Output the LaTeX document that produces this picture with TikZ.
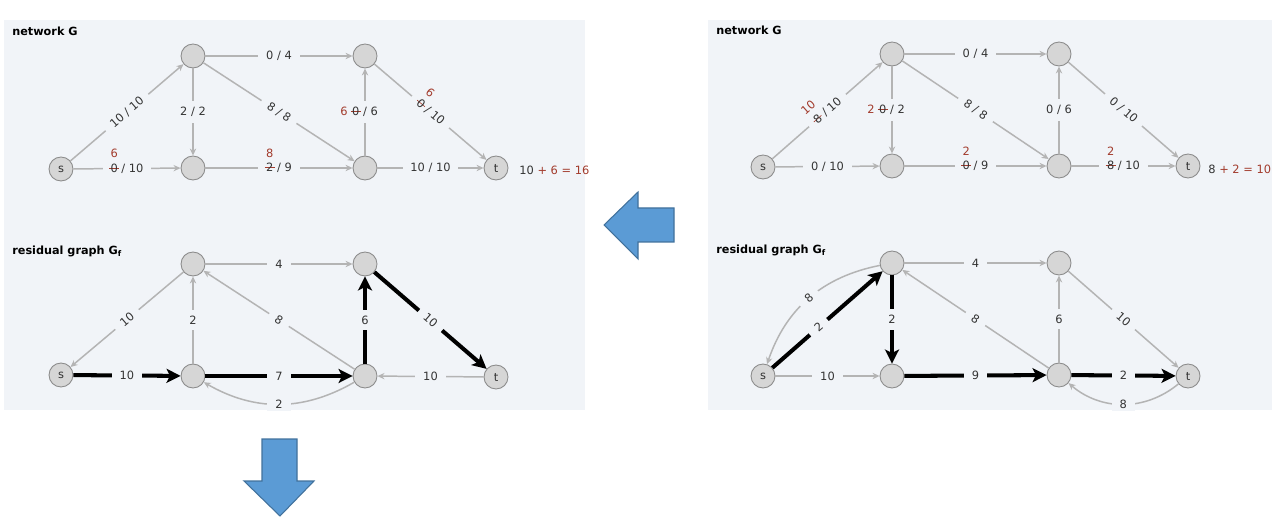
\documentclass[tikz,border=0pt]{standalone}
\usepackage{fontspec}
\setmainfont{DejaVu Sans}
\usepackage{tikz}
\usetikzlibrary{arrows.meta}
\definecolor{panelbg}{HTML}{F1F4F8}
\definecolor{edgegrey}{HTML}{B4B4B4}
\definecolor{nodefill}{HTML}{D6D6D6}
\definecolor{nodedraw}{HTML}{8C8C8C}
\definecolor{txtgrey}{HTML}{333333}
\definecolor{flowred}{HTML}{A23B2C}
\definecolor{arrowblue}{HTML}{5B9BD5}
\definecolor{arrowedge}{HTML}{41719C}

\newcommand{\labelfont}{\fontsize{6.5}{7.5}\selectfont}
\newcommand{\titlefont}{\fontsize{6.4}{7.5}\selectfont\bfseries}
\newlength\oldw
\newcommand{\struck}[1]{\settowidth\oldw{#1}\makebox[0pt][l]{\hspace{-0.12em}{\color{flowred}\rule[0.33em]{\dimexpr\oldw+0.24em\relax}{0.35pt}}}#1}
\newcommand{\flowup}[2]{\settowidth\oldw{#2}\makebox[0pt][l]{\makebox[\oldw]{\smash{\raisebox{1.25em}{\color{flowred}#1}}}}\struck{#2}}
\newcommand{\flowleft}[2]{\llap{{\color{flowred}#1}\hspace{0.4em}}\struck{#2}}

\begin{document}
\begin{tikzpicture}[x=0.02cm, y=-0.02cm,
  vtx/.style={circle, draw=nodedraw, fill=nodefill, line width=0.5pt, minimum size=0.48cm, inner sep=0pt, font=\labelfont, text=txtgrey},
  res/.style={draw=edgegrey, line width=0.85pt, -{Stealth[length=4pt,width=3.6pt]}},
  aug/.style={draw=black, line width=2.3pt, -{Stealth[length=8pt,width=8pt,inset=2pt]}},
  lbl/.style={fill=panelbg, inner xsep=4.5pt, inner ysep=3.5pt, text=txtgrey, font=\labelfont},
  heading/.style={anchor=west, inner sep=0pt, font=\titlefont, text=black},
  total/.style={anchor=west, inner sep=0pt, font=\labelfont, text=txtgrey},
  bigarrow/.style={draw=arrowedge, fill=arrowblue, line width=0.6pt}]
\useasboundingbox (0,0) rectangle (1278,530);
\fill[panelbg] (4,20) rectangle (585,410);
\fill[panelbg] (708,20) rectangle (1272,410);

% left: network G
\node[heading] (ttl1) at (12,31) {network G};
\node[vtx] (s1) at (61,169) {s};
\node[vtx] (a1) at (193,56) {};
\node[vtx] (b1) at (193,168) {};
\node[vtx] (c1) at (365,56) {};
\node[vtx] (d1) at (365,168) {};
\node[vtx] (t1) at (496,168) {t};
\draw[res] (s1) -- node[lbl, sloped] {10 / 10} (a1);
\draw[res] (s1) -- node[lbl] {\flowup{6}{0} / 10} (b1);
\draw[res] (a1) -- node[lbl] {0 / 4} (c1);
\draw[res] (a1) -- node[lbl] {2 / 2} (b1);
\draw[res] (a1) -- node[lbl, sloped] {8 / 8} (d1);
\draw[res] (b1) -- node[lbl] {\flowup{8}{2} / 9} (d1);
\draw[res] (d1) -- node[lbl] {\flowleft{6}{0} / 6} (c1);
\draw[res] (c1) -- node[lbl, sloped] {\flowup{6}{0} / 10} (t1);
\draw[res] (d1) -- node[lbl] {10 / 10} (t1);
\node[total] (val1) at (519,170) {10 {\color{flowred}+ 6 = 16}};

% left: residual graph
\node[heading] (ttl2) at (12,251) {residual graph G\textsubscript{f}};
\node[vtx] (s2) at (61,375) {s};
\node[vtx] (a2) at (193,264) {};
\node[vtx] (b2) at (193,376) {};
\node[vtx] (c2) at (365,264) {};
\node[vtx] (d2) at (365,376) {};
\node[vtx] (t2) at (496,377) {t};
\draw[res] (a2) -- node[lbl, sloped] {10} (s2);
\draw[aug] (s2) -- node[lbl] {10} (b2);
\draw[res] (b2) -- node[lbl] {2} (a2);
\draw[res] (a2) -- node[lbl] {4} (c2);
\draw[res] (d2) -- node[lbl, sloped] {8} (a2);
\draw[aug] (b2) -- node[lbl] {7} (d2);
\draw[res] (d2) to[bend left=30] node[lbl, inner ysep=1.5pt] {2} (b2);
\draw[aug] (d2) -- node[lbl] {6} (c2);
\draw[aug] (c2) -- node[lbl, sloped] {10} (t2);
\draw[res] (t2) -- node[lbl] {10} (d2);

% right: network G
\node[heading] (ttl3) at (716,30) {network G};
\node[vtx] (s3) at (763,167) {s};
\node[vtx] (a3) at (892,54) {};
\node[vtx] (b3) at (892,166) {};
\node[vtx] (c3) at (1059,54) {};
\node[vtx] (d3) at (1059,166) {};
\node[vtx] (t3) at (1188,166) {t};
\draw[res] (s3) -- node[lbl, sloped] {\flowup{10}{8} / 10} (a3);
\draw[res] (s3) -- node[lbl] {0 / 10} (b3);
\draw[res] (a3) -- node[lbl] {\flowleft{2}{0} / 2} (b3);
\draw[res] (a3) -- node[lbl] {0 / 4} (c3);
\draw[res] (a3) -- node[lbl, sloped] {8 / 8} (d3);
\draw[res] (b3) -- node[lbl] {\flowup{2}{0} / 9} (d3);
\draw[res] (d3) -- node[lbl] {0 / 6} (c3);
\draw[res] (c3) -- node[lbl, sloped] {0 / 10} (t3);
\draw[res] (d3) -- node[lbl] {\flowup{2}{8} / 10} (t3);
\node[total] (val3) at (1208,169) {8 {\color{flowred}+ 2 = 10}};

% right: residual graph
\node[heading] (ttl4) at (716,250) {residual graph G\textsubscript{f}};
\node[vtx] (s4) at (763,376) {s};
\node[vtx] (a4) at (892,263) {};
\node[vtx] (b4) at (892,376) {};
\node[vtx] (c4) at (1059,263) {};
\node[vtx] (d4) at (1059,375) {};
\node[vtx] (t4) at (1188,376) {t};
\draw[res] (a4) to[bend right=30] node[lbl, sloped] {8} (s4);
\draw[aug] (s4) -- node[lbl, sloped, pos=0.42] {2} (a4);
\draw[aug] (a4) -- node[lbl] {2} (b4);
\draw[res] (s4) -- node[lbl] {10} (b4);
\draw[res] (a4) -- node[lbl] {4} (c4);
\draw[res] (d4) -- node[lbl, sloped] {8} (a4);
\draw[aug] (b4) -- node[lbl] {9} (d4);
\draw[res] (d4) -- node[lbl] {6} (c4);
\draw[res] (c4) -- node[lbl, sloped] {10} (t4);
\draw[aug] (d4) -- node[lbl] {2} (t4);
\draw[res] (t4) to[bend left=40] node[lbl, inner ysep=1.5pt] {8} (d4);

% block arrows
\draw[bigarrow] (604,225) -- (638,192) -- (638,208) -- (674,208) -- (674,242) -- (638,242) -- (638,259) -- cycle;
\draw[bigarrow] (262,439) -- (297,439) -- (297,481) -- (314,481) -- (280,516) -- (244,481) -- (262,481) -- cycle;
\end{tikzpicture}
\end{document}
